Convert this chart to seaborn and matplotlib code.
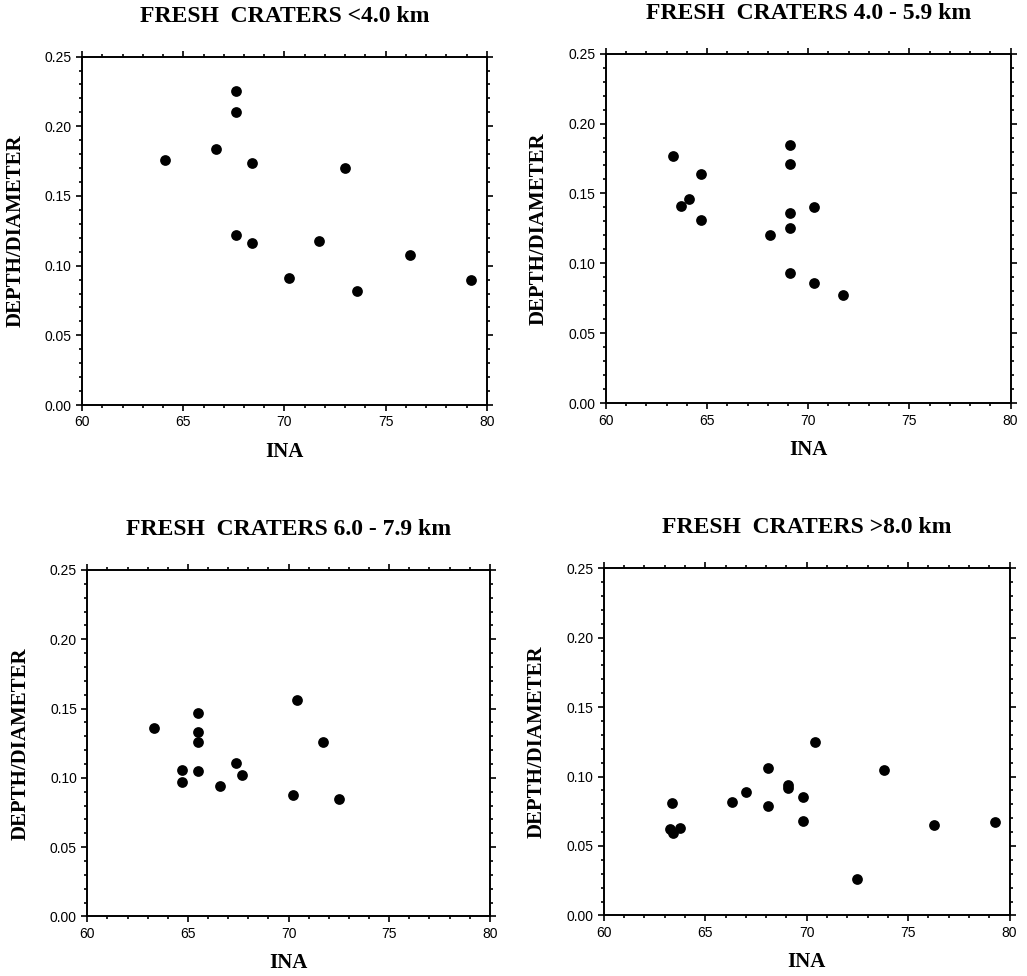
import numpy as np
import pandas as pd
import seaborn as sns
import matplotlib.pyplot as plt
from matplotlib.ticker import MultipleLocator, FormatStrFormatter

# Dados (INA vs profundidade/diâmetro)
titulos = ['FRESH  CRATERS <4.0 km', 'FRESH  CRATERS 4.0 - 5.9 km',
           'FRESH  CRATERS 6.0 - 7.9 km', 'FRESH  CRATERS >8.0 km']

ina_1 = [64.1, 66.6, 67.6, 67.6, 68.4, 73.0, 67.6, 68.4, 71.7, 70.2, 76.2, 73.6, 79.2]
dd_1 = [0.176, 0.184, 0.225, 0.210, 0.174, 0.170, 0.122, 0.116, 0.118, 0.091, 0.108, 0.082, 0.090]

ina_2 = [63.3, 63.7, 64.1, 64.7, 64.7, 69.1, 69.1, 69.1, 69.1, 70.3, 68.1, 69.1, 70.3, 71.7]
dd_2 = [0.177, 0.141, 0.146, 0.164, 0.131, 0.185, 0.171, 0.136, 0.125, 0.140, 0.120, 0.093, 0.086, 0.077]

ina_3 = [63.3, 65.5, 65.5, 65.5, 65.5, 64.7, 64.7, 66.6, 67.4, 67.7, 70.4, 70.2, 71.7, 72.5]
dd_3 = [0.136, 0.147, 0.133, 0.126, 0.105, 0.106, 0.097, 0.094, 0.111, 0.102, 0.156, 0.088, 0.126, 0.085]

ina_4 = [63.35, 63.25, 63.4, 63.75, 66.3, 67.0, 68.1, 68.1, 69.1, 69.1, 69.8, 69.8, 70.4, 72.5, 73.8, 76.3, 79.3]
dd_4 = [0.081, 0.062, 0.059, 0.063, 0.082, 0.089, 0.106, 0.079, 0.094, 0.092, 0.085, 0.068, 0.125, 0.026, 0.105, 0.065, 0.067]

dados = [(ina_1, dd_1), (ina_2, dd_2), (ina_3, dd_3), (ina_4, dd_4)]

# posições dos eixos na figura (left, bottom, width, height)
posicoes = [[0.080, 0.585, 0.394, 0.357],
            [0.590, 0.587, 0.394, 0.358],
            [0.085, 0.061, 0.392, 0.355],
            [0.588, 0.062, 0.395, 0.356]]

sns.set_style('ticks')
plt.rcParams['font.family'] = ['Liberation Sans', 'DejaVu Sans']
plt.rcParams['text.color'] = 'black'
plt.rcParams['axes.labelcolor'] = 'black'

fig = plt.figure(figsize=(10.27, 9.76), dpi=100)

for (x, y), titulo, pos in zip(dados, titulos, posicoes):
    ax = fig.add_axes(pos)
    df = pd.DataFrame({'INA': x, 'DD': y})
    sns.scatterplot(data=df, x='INA', y='DD', ax=ax, color='black',
                    s=60, edgecolor='black', linewidth=0)
    ax.set_xlim(60, 80)
    ax.set_ylim(0, 0.25)
    ax.xaxis.set_major_locator(MultipleLocator(5))
    ax.xaxis.set_minor_locator(MultipleLocator(1))
    ax.yaxis.set_major_locator(MultipleLocator(0.05))
    ax.yaxis.set_minor_locator(MultipleLocator(0.01))
    ax.yaxis.set_major_formatter(FormatStrFormatter('%.2f'))
    ax.tick_params(which='both', direction='out', top=True, right=True,
                   width=1.2, labelsize=10, colors='black')
    ax.tick_params(which='major', length=4.5, pad=3)
    ax.tick_params(which='minor', length=2.5)
    for sp in ax.spines.values():
        sp.set_linewidth(1.4)
        sp.set_color('black')
    ax.set_xlabel('INA', family='Liberation Serif', fontweight='bold',
                  fontsize=15, labelpad=9)
    ax.set_ylabel('DEPTH/DIAMETER', family='Liberation Serif', fontweight='bold',
                  fontsize=15, labelpad=14)
    ax.set_title(titulo, family='Liberation Serif', fontweight='bold',
                 fontsize=17, pad=25, color='black')

fig.savefig('out.png', dpi=100)
